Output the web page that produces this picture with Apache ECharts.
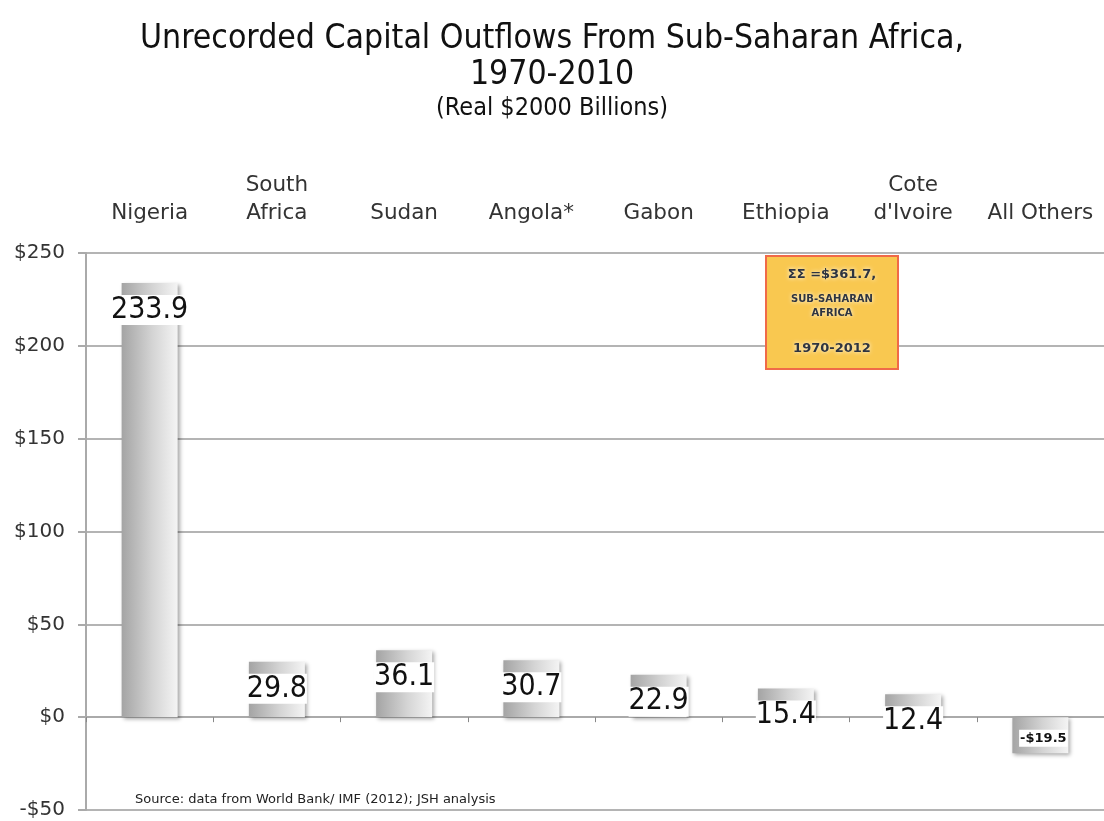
<!DOCTYPE html>
<html>
<head>
<meta charset="utf-8">
<script src="https://cdn.jsdelivr.net/npm/echarts@6/dist/echarts.min.js"></script>
<style>html,body{margin:0;padding:0;background:#fff}#c{width:1104px;height:821px}</style>
</head>
<body>
<div id="c"></div>
<script>
const categories = ['Nigeria', 'South\nAfrica', 'Sudan', 'Angola*', 'Gabon', 'Ethiopia', 'Cote\nd\'Ivoire', 'All Others'];
const values = [233.9, 29.8, 36.1, 30.7, 22.9, 15.4, 12.4, -19.5];
const yTicks = [-50, 0, 50, 100, 150, 200, 250];

const NARROW = '"DejaVu Sans Condensed", "Liberation Sans Narrow", "Liberation Sans", sans-serif';
const chart = echarts.init(document.getElementById('c'));
const barGrad = new echarts.graphic.LinearGradient(0, 0, 1, 0, [
  {offset: 0, color: '#a4a4a4'},
  {offset: 0.55, color: '#d4d4d4'},
  {offset: 1, color: '#f4f4f4'}
]);
const fmt = v => v < 0 ? '-$' + (-v) : '$' + v;
const boxText = {align: 'center', fontFamily: 'DejaVu Sans', fontWeight: 'bold', fill: '#2e3440', textShadowColor: '#fff', textShadowBlur: 4};

chart.setOption({
  animation: false,
  title: [
    {text: 'Unrecorded Capital Outflows From Sub-Saharan Africa,\n1970-2010', left: 'center', top: 16,
     textStyle: {fontFamily: NARROW, fontWeight: 'normal', fontSize: 33.5, color: '#111', lineHeight: 36}},
    {text: '(Real $2000 Billions)', left: 'center', top: 91,
     textStyle: {fontFamily: NARROW, fontWeight: 'normal', fontSize: 25, color: '#111'}}
  ],
  grid: {left: 86, right: -6, top: 253, bottom: 11, containLabel: false},
  xAxis: [
    {type: 'category', data: categories, position: 'bottom',
     axisLine: {onZero: true, lineStyle: {color: '#aaa', width: 2}},
     axisTick: {show: true, length: 5, lineStyle: {color: '#888'}},
     axisLabel: {show: false}},
    {type: 'category', data: categories, position: 'top',
     axisLine: {show: false}, axisTick: {show: false},
     axisLabel: {margin: 26, fontFamily: 'DejaVu Sans', fontSize: 21.5, color: '#333', lineHeight: 28, interval: 0}}
  ],
  yAxis: {type: 'value', min: -50, max: 250, interval: 50,
    axisLine: {show: true, lineStyle: {color: '#aaa', width: 2}},
    axisTick: {show: true, length: 8, lineStyle: {color: '#aaa', width: 2}},
    axisLabel: {formatter: v => yTicks.includes(v) ? fmt(v) : '', margin: 21, fontFamily: 'DejaVu Sans', fontSize: 20, color: '#333'},
    splitLine: {show: true, lineStyle: {color: '#b4b4b4', width: 2}}},
  series: [{
    type: 'bar', xAxisIndex: 0, barWidth: 56,
    data: values.map(v => {
      const d = {value: v};
      if (v < 0) {
        d.label = {position: 'inside', offset: [3, 3], formatter: p => fmt(p.value), fontFamily: 'DejaVu Sans', fontWeight: 'bold', fontSize: 13, color: '#111', backgroundColor: '#fff', padding: [2, 1]};
      }
      return d;
    }),
    itemStyle: {color: barGrad, shadowBlur: 4, shadowColor: 'rgba(0,0,0,0.35)', shadowOffsetX: 2, shadowOffsetY: 2},
    label: {show: true, position: 'insideTop', distance: 12, formatter: p => p.value.toFixed(1),
      fontFamily: NARROW, fontSize: 30, color: '#111', backgroundColor: '#fff', padding: [0, 0]}
  }],
  graphic: [
    {type: 'group', left: 765, top: 255, z: 100, children: [
      {type: 'rect', z: 100, shape: {x: 0, y: 0, width: 132, height: 113}, style: {fill: '#f9c850', stroke: '#f06a48', lineWidth: 2}},
      {type: 'text', z: 101, x: 66, y: 12, style: Object.assign({text: 'ΣΣ =$361.7,', fontSize: 13}, boxText)},
      {type: 'text', z: 101, x: 66, y: 38, style: Object.assign({text: 'SUB-SAHARAN', fontSize: 10}, boxText)},
      {type: 'text', z: 101, x: 66, y: 52, style: Object.assign({text: 'AFRICA', fontSize: 10}, boxText)},
      {type: 'text', z: 101, x: 66, y: 86, style: Object.assign({text: '1970-2012', fontSize: 13}, boxText)}
    ]},
    {type: 'text', left: 135, top: 793, style: {text: 'Source: data from World Bank/ IMF (2012); JSH analysis', fontFamily: 'DejaVu Sans', fontSize: 13, fill: '#222'}}
  ]
});
</script>
</body>
</html>
